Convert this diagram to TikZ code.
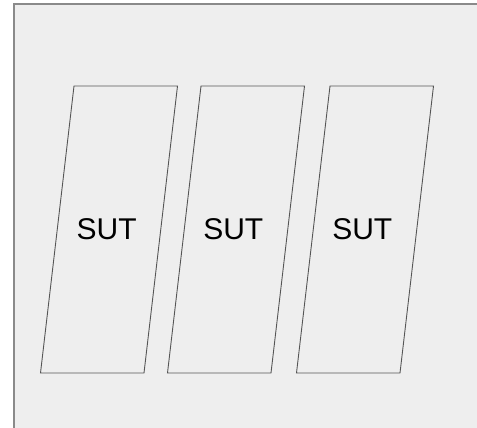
\documentclass[tikz,border=0pt]{standalone}
\usepackage{fontspec}
\setmainfont{Liberation Sans}
\definecolor{bg}{HTML}{EEEEEE}
\definecolor{frame}{HTML}{8A8A8A}
\definecolor{edge}{HTML}{555555}
\begin{document}
\begin{tikzpicture}[x=1pt,y=-1pt,
  sutbox/.style={draw=edge, line width=0.9pt, line join=miter},
  sutlabel/.style={font=\fontsize{30}{30}\selectfont, inner sep=0pt, anchor=center}]
\useasboundingbox (0,0) rectangle (477,428);
\fill[bg] (14,4) rectangle (477,428);
\draw[frame, line width=1.3pt] (14,428) -- (14,4) -- (477,4);
\foreach \dx/\n in {0/a,127/b,256/c}{
  \draw[sutbox] (74+\dx,86) -- (177.5+\dx,86) -- (144+\dx,373) -- (40.5+\dx,373) -- cycle;
}
\node[sutlabel] (sa) at (106.7,229.5) {\vphantom{S}SUT};
\node[sutlabel] (sb) at (233.3,229.5) {SUT};
\node[sutlabel] (sc) at (362.3,229.5) {SUT};
\end{tikzpicture}
\end{document}
